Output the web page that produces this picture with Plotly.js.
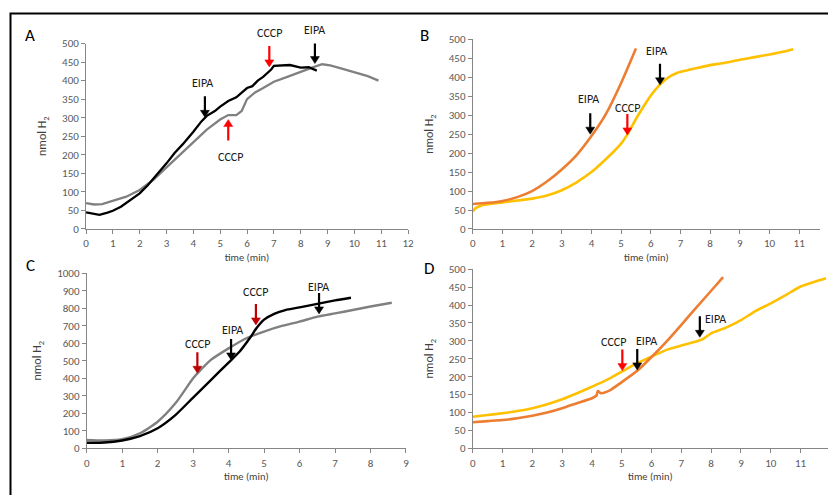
<!DOCTYPE html>
<html>
<head>
<meta charset="utf-8">
<script src="https://cdn.plot.ly/plotly-3.0.1.min.js"></script>
<style>html,body{margin:0;padding:0;background:#fff}#chart{width:828px;height:495px}</style>
</head>
<body>
<div id="chart"></div>
<script>
// ---------- Panel A ----------
const aBlackT = [0, 0.2, 0.5, 0.8, 1, 1.3, 1.6, 2, 2.3, 2.6, 3, 3.3, 3.6, 4, 4.3, 4.5, 4.8, 5, 5.3, 5.6, 5.8, 6, 6.2, 6.4, 6.6, 6.8, 6.9, 7, 7.3, 7.6, 8, 8.3, 8.6];
const aBlackY = [45, 42, 38, 44, 49, 60, 75, 96, 118, 143, 177, 205, 228, 262, 290, 305, 318, 330, 345, 355, 368, 380, 385, 400, 410, 422, 430, 440, 440, 442, 435, 436, 427];
const aGrayT = [0, 0.3, 0.6, 1, 1.5, 2, 2.5, 3, 3.5, 4, 4.5, 5, 5.3, 5.6, 5.8, 6, 6.3, 6.6, 7, 7.5, 8, 8.5, 8.8, 9.1, 9.5, 10, 10.5, 10.9];
const aGrayY = [70, 66, 67, 75, 87, 105, 132, 166, 200, 235, 268, 295, 307, 307, 318, 350, 368, 380, 397, 410, 424, 437, 444, 441, 433, 423, 412, 400];
const aEventLabel = ["EIPA", "CCCP", "CCCP", "EIPA"];
const aEventT = [4.43, 5.3, 6.83, 8.53];
const aEventY = [301, 295, 437, 446];

// ---------- Panel B ----------
const bOrangeT = [0, 0.5, 1, 1.5, 2, 2.5, 3, 3.5, 4, 4.5, 5, 5.5];
const bOrangeY = [66, 69, 74, 84, 100, 125, 157, 195, 245, 305, 385, 476];
const bYellowT = [0, 0.1, 0.3, 0.6, 1, 1.5, 2, 2.5, 3, 3.5, 4, 4.5, 5, 5.2, 5.5, 5.8, 6, 6.3, 6.6, 6.9, 7.2, 7.6, 8, 8.5, 9, 9.5, 10, 10.5, 10.8];
const bYellowY = [46, 55, 62, 66, 70, 75, 80, 88, 102, 123, 150, 185, 225, 248, 290, 328, 352, 380, 400, 412, 418, 425, 432, 438, 446, 453, 460, 468, 474];
const bEventLabel = ["EIPA", "CCCP", "EIPA"];
const bEventT = [3.96, 5.21, 6.31];
const bEventY = [250, 248, 380];

// ---------- Panel C ----------
const cBlackT = [0, 0.5, 1, 1.5, 2, 2.5, 3, 3.5, 4, 4.3, 4.6, 4.8, 5, 5.3, 5.6, 6, 6.5, 7, 7.45];
const cBlackY = [32, 33, 45, 70, 115, 190, 290, 390, 490, 550, 630, 690, 735, 770, 790, 805, 825, 845, 860];
const cGrayT = [0, 0.5, 1, 1.5, 2, 2.5, 3, 3.2, 3.5, 4, 4.5, 5, 5.5, 6, 6.5, 7, 7.5, 8, 8.6];
const cGrayY = [48, 45, 52, 86, 152, 257, 400, 445, 505, 571, 629, 667, 699, 724, 752, 771, 790, 810, 832];
const cEventLabel = ["CCCP", "EIPA", "CCCP", "EIPA"];
const cEventT = [3.12, 4.07, 4.77, 6.55];
const cEventY = [429, 505, 705, 768];

// ---------- Panel D ----------
const dOrangeT = [0, 0.5, 1, 1.5, 2, 2.5, 3, 3.5, 4, 4.15, 4.2, 4.3, 4.6, 5, 5.5, 6, 6.5, 7, 7.5, 8, 8.4];
const dOrangeY = [73, 76, 79, 84, 91, 100, 112, 126, 140, 147, 160, 154, 162, 185, 215, 255, 298, 345, 393, 440, 478];
const dYellowT = [0, 0.5, 1, 1.5, 2, 2.5, 3, 3.5, 4, 4.5, 5, 5.5, 6, 6.5, 7, 7.5, 7.7, 8, 8.5, 9, 9.5, 10, 10.5, 11, 11.5, 11.85];
const dYellowY = [88, 93, 98, 104, 112, 123, 137, 154, 172, 191, 214, 237, 256, 275, 287, 298, 304, 321, 337, 358, 384, 405, 428, 452, 466, 475];
const dEventLabel = ["CCCP", "EIPA", "EIPA"];
const dEventT = [5.02, 5.52, 7.62];
const dEventY = [217, 219, 310];

const panelLetters = ["A", "B", "C", "D"];
const xTitle = "time (min)";
const yTitle = "nmol H<sub>2</sub>";

// ---------- styles ----------
const FONT = "Carlito, Lato, 'Open Sans', sans-serif";
const BLACK = "#000000", GRAY = "#808080", ORANGE = "#ED7D31", YELLOW = "#FFC000";
const RED = "#FF0000", DARKRED = "#C00000";
const W = 828, H = 495;

const dom = {
  A: {x: [0.1039, 0.4928], y: [0.5374, 0.9121], xr: [0, 12], yr: [0, 500], dy: 50, xa: "x", ya: "y"},
  B: {x: [0.5709, 0.9903], y: [0.5374, 0.9206], xr: [0, 11.7], yr: [0, 500], dy: 50, xa: "x2", ya: "y2"},
  C: {x: [0.1047, 0.4903], y: [0.0943, 0.4479], xr: [0, 9], yr: [0, 1000], dy: 100, xa: "x3", ya: "y3"},
  D: {x: [0.5709, 1.0], y: [0.0943, 0.4560], xr: [0, 11.92], yr: [0, 500], dy: 50, xa: "x4", ya: "y4"}
};

function line(x, y, color, p, width, shape) {
  return {x: x, y: y, type: "scatter", mode: "lines", xaxis: dom[p].xa, yaxis: dom[p].ya,
    line: {color: color, width: width, shape: shape || "linear", smoothing: 0.6},
    hoverinfo: "skip", showlegend: false};
}

const traces = [
  line(aGrayT, aGrayY, GRAY, "A", 2.3),
  line(aBlackT, aBlackY, BLACK, "A", 2.3),
  line(bYellowT, bYellowY, YELLOW, "B", 2.6, "spline"),
  line(bOrangeT, bOrangeY, ORANGE, "B", 2.6, "spline"),
  line(cGrayT, cGrayY, GRAY, "C", 2.4, "spline"),
  line(cBlackT, cBlackY, BLACK, "C", 2.4, "spline"),
  line(dYellowT, dYellowY, YELLOW, "D", 2.6, "spline"),
  line(dOrangeT, dOrangeY, ORANGE, "D", 2.6, "spline")
];

// arrow/label styling per event: [arrow color, direction (1 = pointing down), label dx px, label dy px]
const evStyle = {
  A: [[BLACK, 1, -2, 34], [RED, -1, 2, -37], [RED, 1, 0, 34], [BLACK, 1, 0, 34]],
  B: [[BLACK, 1, -2, 35], [RED, 1, 0, 27], [BLACK, 1, -3, 34]],
  C: [[DARKRED, 1, 0, 29], [BLACK, 1, 1, 30], [DARKRED, 1, 0, 33], [BLACK, 1, -1, 27]],
  D: [[RED, 1, -9, 29], [BLACK, 1, 9, 29], [BLACK, 1, 16, 18]]
};
const ARROW_LEN = 21, HEAD_LEN = 7, HEAD_HALF = 4.5, SHAFT = 2.2;

const annotations = [];
function addEvents(p, labels, ts, ys) {
  const d = dom[p];
  const ux = (d.xr[1] - d.xr[0]) / ((d.x[1] - d.x[0]) * W); // data units per px
  const uy = (d.yr[1] - d.yr[0]) / ((d.y[1] - d.y[0]) * H);
  labels.forEach((lab, i) => {
    const st = evStyle[p][i];
    const s = st[1];
    const t = ts[i], y = ys[i];
    traces.push({x: [t, t], y: [y + s * ARROW_LEN * uy, y + s * (HEAD_LEN - 1) * uy],
      type: "scatter", mode: "lines", xaxis: d.xa, yaxis: d.ya,
      line: {color: st[0], width: SHAFT}, hoverinfo: "skip", showlegend: false});
    traces.push({x: [t - HEAD_HALF * ux, t + HEAD_HALF * ux, t, t - HEAD_HALF * ux],
      y: [y + s * HEAD_LEN * uy, y + s * HEAD_LEN * uy, y, y + s * HEAD_LEN * uy],
      type: "scatter", mode: "lines", fill: "toself", fillcolor: st[0], xaxis: d.xa, yaxis: d.ya,
      line: {color: st[0], width: 0.5}, hoverinfo: "skip", showlegend: false});
    annotations.push({x: t, y: y, xref: d.xa, yref: d.ya, text: lab, showarrow: false,
      xshift: st[2], yshift: st[3],
      font: {family: FONT, size: 12, color: "#1a1a1a"}});
  });
}
addEvents("A", aEventLabel, aEventT, aEventY);
addEvents("B", bEventLabel, bEventT, bEventY);
addEvents("C", cEventLabel, cEventT, cEventY);
addEvents("D", dEventLabel, dEventT, dEventY);

const letterPos = [[30, 35], [425, 35], [30, 265], [429, 268]];
panelLetters.forEach((L, i) => {
  annotations.push({x: letterPos[i][0] / W, y: 1 - letterPos[i][1] / H, xref: "paper", yref: "paper",
    text: L, showarrow: false, xanchor: "center", yanchor: "middle",
    font: {family: FONT, size: 17, color: "#000"}});
});

function xax(p) {
  const d = dom[p];
  return {domain: d.x, range: d.xr, anchor: d.ya, dtick: 1, tick0: 0,
    showline: true, linecolor: "#868686", linewidth: 1, ticks: "outside", ticklen: 4, tickcolor: "#868686",
    showgrid: false, zeroline: false, tickfont: {family: FONT, size: 11, color: "#595959"},
    title: {text: xTitle, font: {family: FONT, size: 10.5, color: "#404040"}, standoff: 4},
    automargin: false, fixedrange: true};
}
function yax(p) {
  const d = dom[p];
  return {domain: d.y, range: d.yr, anchor: d.xa, dtick: d.dy, tick0: 0,
    showline: true, linecolor: "#868686", linewidth: 1, ticks: "outside", ticklen: 4, tickcolor: "#868686",
    showgrid: false, zeroline: false, tickfont: {family: FONT, size: 11, color: "#595959"},
    title: {text: yTitle, font: {family: FONT, size: 12, color: "#404040"}, standoff: 12},
    automargin: false, fixedrange: true};
}

const layout = {
  width: W, height: H,
  margin: {l: 0, r: 0, t: 0, b: 0},
  paper_bgcolor: "#fff", plot_bgcolor: "rgba(0,0,0,0)",
  showlegend: false,
  xaxis: xax("A"), yaxis: yax("A"),
  xaxis2: xax("B"), yaxis2: yax("B"),
  xaxis3: xax("C"), yaxis3: yax("C"),
  xaxis4: xax("D"), yaxis4: yax("D"),
  annotations: annotations,
  shapes: [{type: "rect", xref: "paper", yref: "paper", x0: 10.5 / W, x1: 1.05, y0: -0.05, y1: 1 - 13.5 / H,
    line: {color: "#000", width: 2}, fillcolor: "rgba(0,0,0,0)", layer: "above"}]
};

Plotly.newPlot("chart", traces, layout, {displayModeBar: false, staticPlot: true});
</script>
</body>
</html>
